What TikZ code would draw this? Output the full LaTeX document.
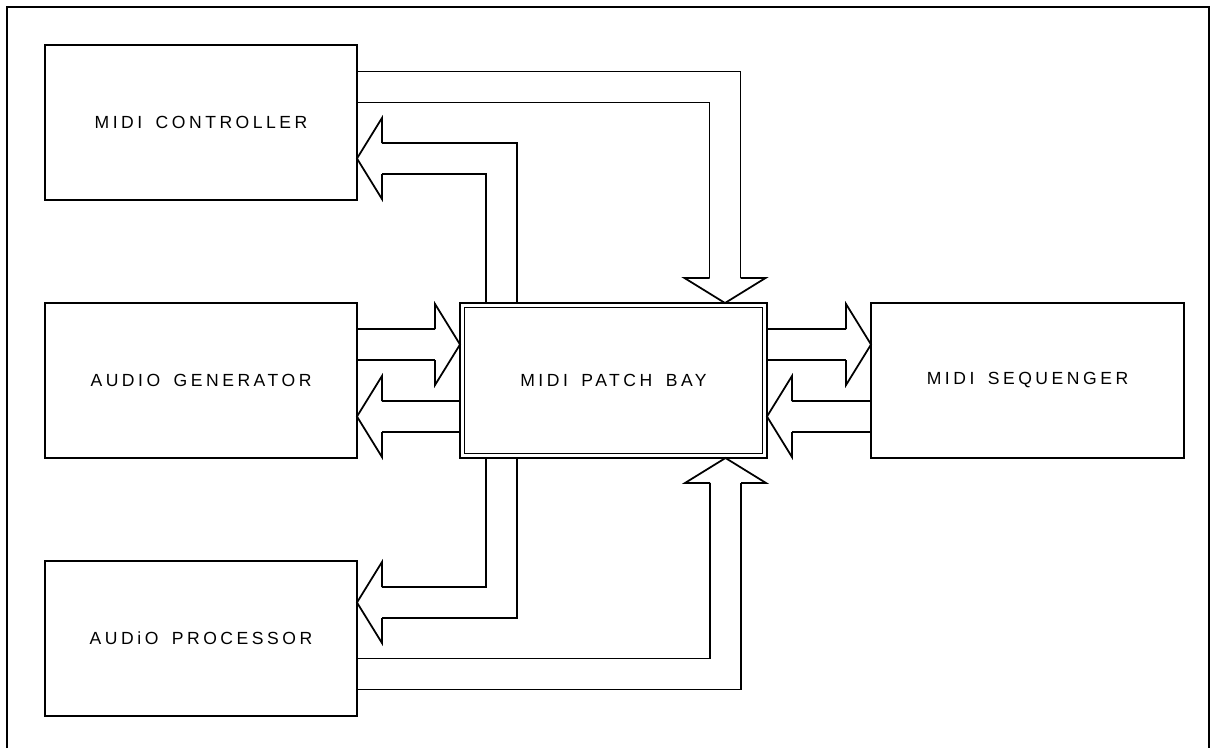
\documentclass[tikz,border=0pt]{standalone}
\usepackage{fontspec}
\newfontfamily\blockfont[LetterSpace=20, WordSpace=1.6]{Liberation Sans}
\usetikzlibrary{calc, backgrounds}

\begin{document}
\begin{tikzpicture}[x=0.02cm, y=-0.02cm,
		box/.style={draw, line width=1pt, minimum width=6.24cm, minimum height=3.1cm,
			inner sep=0pt, outer sep=0pt, font=\blockfont\fontsize{10}{12}\selectfont},
		shaft/.style={line width=1pt, double=white, double distance=16.6pt},
		hhead/.pic={\draw[line width=1pt, fill=white] (-25,15.5) -- (-25,40.5) -- (0,0) -- (-25,-40.5) -- (-25,-15.5);}]
	\useasboundingbox (0,0) rectangle (1214,748);
	
	% Rahmen
	\draw[line width=1.5pt] (7,748) -- (7,7) -- (1209,7) -- (1209,748);
	
	% Bloecke
	\node[box] (ctrl) at (201,122.5) {MIDI CONTROLLER};
	\node[box] (gen) at (201,380.5) {AUDIO GENERATOR};
	\node[box] (proc) at (201,638.5) {AUDiO PROCESSOR};
	\node[box, minimum width=6.14cm] (bay) at (613.5,380.5) {MIDI PATCH BAY};
	\draw[line width=1pt] ($(bay.north west)+(4.5,4.5)$) rectangle ($(bay.south east)+(-4.5,-4.5)$);
	\node[box, minimum width=6.26cm] (seq) at (1027.5,380.5) {MIDI SEQUENGER};
	
	% Pfeile
	\begin{pgfonlayer}{background}
		\draw[shaft] ($(ctrl.east)+(0,-35.5)$) -| ($(bay.north)+(111.5,-25)$);
		\pic[rotate=-90] at ($(bay.north)+(111.5,0)$) {hhead};
		\draw[shaft] ($(bay.north)+(-112,0)$) |- ($(ctrl.east)+(25,36)$);
		\pic[rotate=180] at ($(ctrl.east)+(0,36)$) {hhead};
		
		\draw[shaft] ($(gen.east)+(0,-36)$) -- ($(bay.west)+(-25,-36)$);
		\pic at ($(bay.west)+(0,-36)$) {hhead};
		\draw[shaft] ($(bay.west)+(0,36)$) -- ($(gen.east)+(25,36)$);
		\pic[rotate=180] at ($(gen.east)+(0,36)$) {hhead};
		
		\draw[shaft] ($(bay.east)+(0,-36)$) -- ($(seq.west)+(-25,-36)$);
		\pic at ($(seq.west)+(0,-36)$) {hhead};
		\draw[shaft] ($(seq.west)+(0,36)$) -- ($(bay.east)+(25,36)$);
		\pic[rotate=180] at ($(bay.east)+(0,36)$) {hhead};
		
		\draw[shaft] ($(bay.south)+(-112,0)$) |- ($(proc.east)+(25,-36)$);
		\pic[rotate=180] at ($(proc.east)+(0,-36)$) {hhead};
		\draw[shaft] ($(proc.east)+(0,35.5)$) -| ($(bay.south)+(112,25)$);
		\pic[rotate=90] at ($(bay.south)+(112,0)$) {hhead};
	\end{pgfonlayer}
\end{tikzpicture}
\end{document}
